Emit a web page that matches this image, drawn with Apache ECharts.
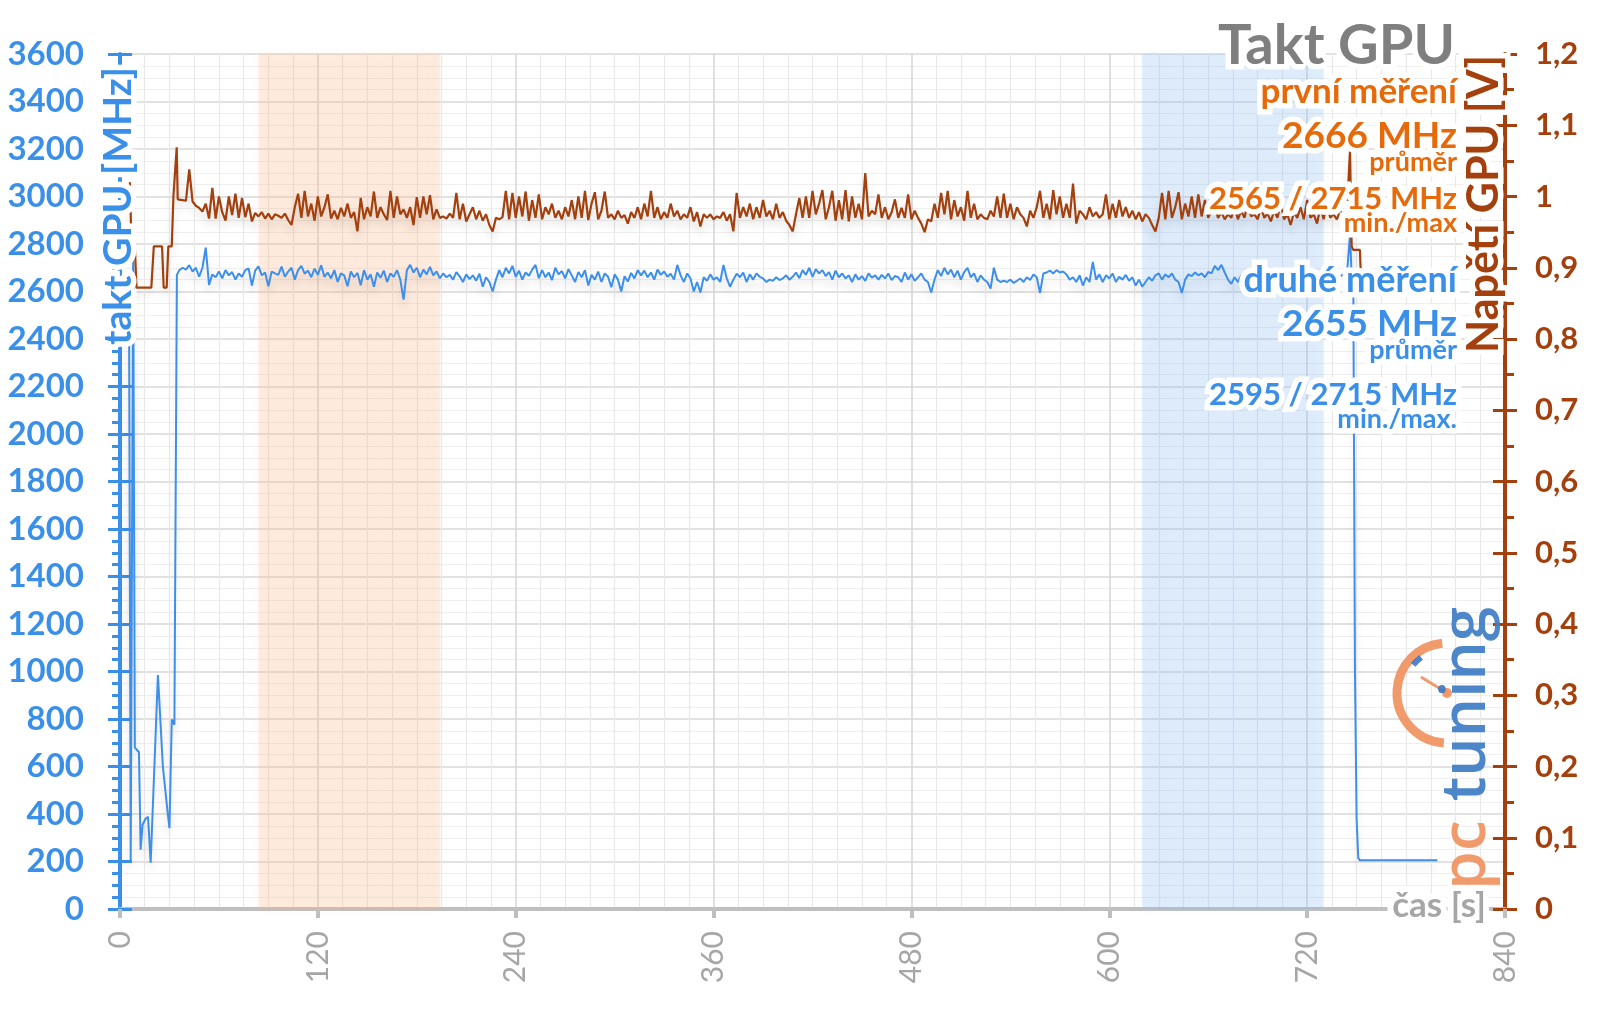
<!DOCTYPE html>
<html><head><meta charset="utf-8">
<script src="https://cdn.jsdelivr.net/npm/echarts@6/dist/echarts.min.js"></script>
<style>html,body{margin:0;padding:0;background:#fff}#c{width:1600px;height:1009px}</style>
</head><body><div id="c"></div>
<script>
// ---- data ----
const xTicks = [0,120,240,360,480,600,720,840];
const bandFirst = [84,194];
const bandSecond = [620,730];

const brownIdleT = [6,7,9,10,19,20.5,25.5,26.5,28.3,29.3,31.4,32.4,33.4,34.4,35];
const brownIdleV = [1.02,0.93,0.93,0.872,0.872,0.93,0.93,0.872,0.872,0.93,0.93,1.0,1.0,1.069,0.996];
const mainStart = 36, mainStep = 2;
const brownMain = [
0.995,0.995,0.994,1.038,0.993,0.987,0.984,0.979,0.99,0.969,
1.012,0.969,1.0,0.978,0.966,1.0,0.974,1.004,0.97,0.998,
0.971,0.99,0.965,0.977,0.972,0.978,0.969,0.976,0.968,0.975,
0.973,0.97,0.976,0.967,0.96,0.985,1.004,0.97,1.008,0.972,
0.99,0.966,1.0,0.972,0.985,1.003,0.969,0.98,0.968,0.984,
0.972,0.99,0.97,0.978,0.951,0.998,0.968,0.985,0.972,1.007,
0.97,0.985,0.975,0.967,1.008,0.97,1.0,0.975,0.982,0.97,
0.985,0.96,0.999,0.97,1.0,0.975,1.002,0.968,0.982,0.97,
0.972,0.969,0.976,0.97,1.005,0.968,0.99,0.965,0.975,0.985,
0.968,0.98,0.966,0.975,0.96,0.951,0.97,0.968,0.971,1.008,
0.968,1.005,0.97,1.0,0.972,1.007,0.966,0.995,0.97,1.003,
0.968,0.985,0.975,0.99,0.97,0.98,0.968,0.985,0.972,0.995,
0.968,1.0,0.97,1.008,0.967,0.99,1.006,0.968,0.98,1.007,
0.97,0.975,0.968,0.98,0.97,0.974,0.962,0.978,0.97,0.985,
0.968,0.99,0.972,1.008,0.97,0.985,0.968,0.978,0.97,0.99,
0.972,0.98,0.968,0.975,0.97,0.985,0.965,0.978,0.958,0.975,
0.97,0.975,0.968,0.972,0.97,0.978,0.966,0.975,0.951,1.005,
0.97,0.985,0.972,0.99,0.968,0.985,0.97,0.995,0.972,0.98,
0.968,0.99,0.97,0.978,0.966,0.96,0.951,0.975,0.998,0.97,
1.0,0.97,1.008,0.975,0.99,1.009,0.968,0.985,1.008,0.966,
0.995,0.968,1.009,0.965,1.0,0.97,0.99,0.968,1.033,0.972,
0.98,0.975,1.003,0.97,0.985,0.968,0.978,0.996,0.97,0.984,
0.97,1.003,0.968,0.98,0.97,0.962,0.95,0.968,0.965,0.99,
0.97,1.005,0.975,1.008,0.968,0.995,0.972,0.985,0.966,1.008,
0.97,0.99,0.968,0.975,0.97,0.968,0.98,0.972,1.0,0.97,
1.004,0.97,0.99,0.968,0.985,0.975,0.97,0.958,0.98,0.97,
0.985,1.008,0.97,0.99,0.968,1.009,0.975,1.0,0.97,0.99,
0.97,1.018,0.962,0.98,0.975,0.968,0.985,0.972,0.978,0.97,
0.975,1.003,0.968,0.99,0.97,0.995,0.972,0.985,0.97,0.98,
0.968,0.978,0.965,0.975,0.97,0.96,0.951,0.97,1.005,0.968,
1.008,0.97,0.985,1.006,0.968,0.99,0.972,1.0,0.97,1.003,
0.972,0.995,0.97,0.98,0.985,0.97,0.978,0.968,0.975,0.97,
0.985,0.968,0.98,0.97,0.99,0.972,0.975,0.968,0.985,0.97,
0.976,0.965,0.98,0.97,0.99,0.968,0.975,0.96,0.978,0.97,
0.985,0.968,0.995,0.97,0.975,0.962,0.985,0.968,0.99,0.97,
0.975,0.968,0.98,0.97,0.972];
const brownEndT = [746,747,748,752,753,757];
const brownEndV = [1.065,0.93,0.925,0.925,0.862,0.86];

const blueIdleT = [5.5,6.5,7.5,8,9,11.5,12.5,13.7,15.5,17,18.6,23,26,27,29,30,31.4,33,34.5];
const blueIdleV = [2500,195,195,2760,680,660,250,355,380,388,195,985,600,598,400,340,798,776,2670];
const blueMain = [
2690,2700,2692,2711,2684,2700,2662,2700,2785,2628,
2672,2660,2684,2655,2690,2668,2682,2650,2676,2662,
2690,2697,2625,2688,2706,2668,2680,2622,2684,2676,
2670,2705,2662,2684,2700,2650,2690,2708,2675,2688,
2660,2696,2670,2710,2662,2680,2655,2690,2640,2676,
2668,2622,2684,2660,2678,2626,2690,2650,2672,2620,
2680,2658,2688,2640,2676,2662,2690,2650,2566,2690,
2712,2680,2700,2660,2692,2672,2704,2668,2685,2656,
2676,2660,2670,2650,2682,2664,2640,2672,2652,2668,
2645,2675,2620,2660,2640,2600,2650,2690,2660,2700,
2676,2708,2662,2688,2650,2680,2666,2692,2712,2656,
2690,2660,2680,2648,2700,2672,2686,2655,2694,2668,
2640,2682,2660,2690,2625,2670,2650,2684,2640,2676,
2662,2618,2672,2650,2600,2664,2642,2678,2655,2690,
2668,2688,2660,2680,2650,2692,2670,2684,2662,2675,
2650,2712,2668,2640,2676,2655,2600,2640,2596,2660,
2645,2672,2650,2660,2640,2712,2655,2620,2650,2675,
2660,2680,2640,2672,2650,2676,2662,2655,2640,2650,
2645,2660,2648,2655,2668,2650,2662,2680,2656,2690,
2670,2700,2662,2694,2676,2690,2665,2682,2650,2688,
2660,2676,2655,2668,2640,2672,2650,2665,2645,2676,
2658,2668,2650,2670,2655,2676,2648,2665,2660,2640,
2680,2650,2672,2645,2660,2676,2650,2640,2596,2650,
2690,2665,2700,2672,2692,2660,2688,2650,2682,2700,
2660,2676,2640,2668,2650,2640,2612,2700,2650,2640,
2645,2640,2650,2636,2645,2655,2640,2660,2648,2672,
2660,2594,2676,2680,2688,2676,2690,2680,2684,2672,
2650,2660,2640,2668,2625,2660,2640,2725,2650,2672,
2640,2668,2655,2676,2640,2662,2650,2670,2645,2660,
2625,2650,2620,2640,2660,2645,2668,2676,2650,2672,
2660,2676,2650,2640,2594,2650,2672,2665,2680,2668,
2676,2660,2682,2676,2708,2690,2712,2680,2650,2632,
2660,2640,2668,2655,2670,2650,2664,2645,2660,2672,
2655,2668,2650,2676,2660,2648,2670,2658,2680,2650,
2665,2645,2672,2660,2650,2676,2662,2640,2668,2655,
2670,2650,2664,2672,2660];
const blueEndT = [746,747,748,749,750,751,752,799];
const blueEndV = [2840,2662,2650,1000,380,215,205,205];

// ---- build ----
function pairs(ts, vs){ return ts.map((t,i)=>[t, vs[i]]); }
function mainPairs(vs){ return vs.map((v,i)=>[mainStart + mainStep*i, v]); }
const brownData = pairs(brownIdleT, brownIdleV).concat(mainPairs(brownMain), pairs(brownEndT, brownEndV));
const blueData = pairs(blueIdleT, blueIdleV).concat(mainPairs(blueMain), pairs(blueEndT, blueEndV));

const BLUE = '#3a8fe8', BROWN = '#a3400d', ORANGE = '#e6690a', GREY = '#a6a6a6';
const FONT = 'Lato, "Open Sans", sans-serif';

function glowText(text, x, y, size, color, opt){
  opt = opt || {};
  const base = {
    text: text, x: 0, y: 0,
    font: (opt.weight||'bold') + ' ' + size + 'px ' + FONT,
    textAlign: opt.align || 'right', textVerticalAlign: 'middle',
    align: opt.align || 'right', verticalAlign: 'middle'
  };
  const els = [];
  if (opt.glow !== false) {
    els.push({type:'text', x:x, y:y, rotation: opt.rot||0, z: 100, silent:true,
      style: Object.assign({}, base, {fill:'#fff', stroke:'#fff', lineWidth: opt.gw||11, lineJoin:'round', shadowBlur: 10, shadowColor:'rgba(255,255,255,1)'})});
  }
  els.push({type:'text', x:x, y:y, rotation: opt.rot||0, z: 101, silent:true,
    style: Object.assign({}, base, {fill: color})});
  return els;
}

const chart = echarts.init(document.getElementById('c'), null, {renderer:'canvas'});
const RX = 1457;
let graphics = [];
graphics = graphics.concat(
  glowText('Takt GPU', 1455, 46, 56, '#7f7f7f'),
  glowText('první měření', RX, 92, 35, ORANGE),
  glowText('2666 MHz', RX, 136, 37, ORANGE),
  glowText('průměr', RX, 162, 27, ORANGE),
  glowText('2565 / 2715 MHz', RX, 199, 31, ORANGE),
  glowText('min./max', RX, 223, 27, ORANGE),
  glowText('druhé měření', RX, 280, 36, BLUE),
  glowText('2655 MHz', RX, 324, 37, BLUE),
  glowText('průměr', RX, 350, 27, BLUE),
  glowText('2595 / 2715 MHz', RX, 395, 31, BLUE),
  glowText('min./max.', RX, 419, 27, BLUE),
  glowText('takt GPU [MHz]', 118, 206, 39, BLUE, {align:'center', rot: Math.PI/2}),
  glowText('Napětí GPU [V]', 1484, 204, 43, BROWN, {align:'center', rot: Math.PI/2}),
  glowText('čas [s]', 1486, 906, 35, GREY, {gw: 12})
);
// logo
const LOGO_O = 'rgba(240,146,96,0.92)', LOGO_B = 'rgba(62,124,196,0.92)';
graphics.push({type:'arc', z:90, silent:true, shape:{cx:1447, cy:693, r:50, startAngle: Math.PI*0.52, endAngle: Math.PI*1.47, clockwise:true},
  style:{stroke:LOGO_O, fill:'none', lineWidth:9}});
graphics.push({type:'line', z:91, silent:true, shape:{x1:1447,y1:693,x2:1421,y2:677}, style:{stroke:LOGO_O, lineWidth:3}});
graphics.push({type:'circle', z:91, silent:true, shape:{cx:1447, cy:693, r:5}, style:{fill:LOGO_O}});
graphics.push({type:'arc', z:91, silent:true, shape:{cx:1447, cy:693, r:44, startAngle: Math.PI*1.22, endAngle: Math.PI*1.3, clockwise:true},
  style:{stroke:LOGO_B, fill:'none', lineWidth:6}});
graphics.push({type:'text', x:1467, y:704, rotation: Math.PI/2, z:92, silent:true,
  style:{text:'tuning', x:0, y:0, font:'600 62px "Open Sans", sans-serif', textAlign:'center', align:'center', textVerticalAlign:'middle', verticalAlign:'middle', fill:LOGO_B}});
graphics.push({type:'text', x:1467, y:855, rotation: Math.PI/2, z:92, silent:true,
  style:{text:'pc', x:0, y:0, font:'600 62px "Open Sans", sans-serif', textAlign:'center', align:'center', textVerticalAlign:'middle', verticalAlign:'middle', fill:LOGO_O}});

const option = {
  animation: false,
  backgroundColor: '#fff',
  grid: {left:120, right:95, top:54, bottom:100, containLabel:false},
  xAxis: {
    type:'value', min:0, max:840, interval:120,
    axisLine:{show:true, onZero:false, lineStyle:{color:'#bfbfbf', width:4}},
    axisTick:{show:true, length:9, lineStyle:{color:'#bfbfbf', width:4}},
    axisLabel:{rotate:90, color:GREY, fontSize:30, fontFamily:FONT, margin:22,
      formatter: v => xTicks.indexOf(v) >= 0 ? String(v) : ''},
    splitLine:{show:true, lineStyle:{color:'#d6d6d6', width:1.5}},
    minorTick:{show:false, splitNumber:8},
    minorSplitLine:{show:true, lineStyle:{color:'#e9e9e9', width:1.2}}
  },
  yAxis: [
    {type:'value', position:'left', min:0, max:3600, interval:200,
      axisLine:{show:true, lineStyle:{color:BLUE, width:4}},
      axisTick:{show:true, inside:false, length:12, lineStyle:{color:BLUE, width:3}},
      minorTick:{show:true, splitNumber:4, length:8, lineStyle:{color:BLUE, width:3}},
      axisLabel:{color:BLUE, fontSize:33, fontWeight:'bold', fontFamily:FONT, margin:36,
        formatter: v => String(v)},
      splitLine:{show:true, lineStyle:{color:'#d9d9d9', width:1.5}},
      minorSplitLine:{show:true, lineStyle:{color:'#efefef', width:1}}
    },
    {type:'value', position:'right', min:0, max:1.2, interval:0.1,
      axisLine:{show:true, lineStyle:{color:BROWN, width:4}},
      axisTick:{show:true, inside:false, length:12, lineStyle:{color:BROWN, width:3}},
      minorTick:{show:true, splitNumber:2, length:9, lineStyle:{color:BROWN, width:3}},
      axisLabel:{color:BROWN, fontSize:31, fontWeight:'bold', fontFamily:FONT, margin:30,
        formatter: v => String(+v.toFixed(1)).replace('.', ',')},
      splitLine:{show:false}
    },
    {type:'value', position:'left', min:0, max:3600, interval:200,
      axisLine:{show:false}, axisLabel:{show:false}, splitLine:{show:false},
      axisTick:{show:true, inside:true, length:12, lineStyle:{color:BLUE, width:3}}
    },
    {type:'value', position:'right', min:0, max:1.2, interval:0.1,
      axisLine:{show:false}, axisLabel:{show:false}, splitLine:{show:false},
      axisTick:{show:true, inside:true, length:12, lineStyle:{color:BROWN, width:3}}
    }
  ],
  graphic: graphics,
  series: [
    {type:'line', name:'první měření', yAxisIndex:1, data: brownData, showSymbol:false, z:4,
      lineStyle:{color:BROWN, width:2.2, shadowColor:'rgba(0,0,0,0.13)', shadowBlur:8, shadowOffsetY:7},
      markArea:{silent:true, z:1, itemStyle:{}, data:[
        [{xAxis: bandFirst[0], itemStyle:{color:'rgba(250,185,135,0.25)', shadowColor:'rgba(250,185,135,0.22)', shadowBlur:12}}, {xAxis: bandFirst[1]}],
        [{xAxis: bandSecond[0], itemStyle:{color:'rgba(140,188,245,0.25)', shadowColor:'rgba(140,188,245,0.22)', shadowBlur:12}}, {xAxis: bandSecond[1]}]
      ]}
    },
    {type:'line', name:'druhé měření', yAxisIndex:0, data: blueData, showSymbol:false, z:3,
      lineStyle:{color:'#3d8fea', width:2, shadowColor:'rgba(0,0,0,0.13)', shadowBlur:8, shadowOffsetY:7}
    }
  ]
};
chart.setOption(option);
</script></body></html>
